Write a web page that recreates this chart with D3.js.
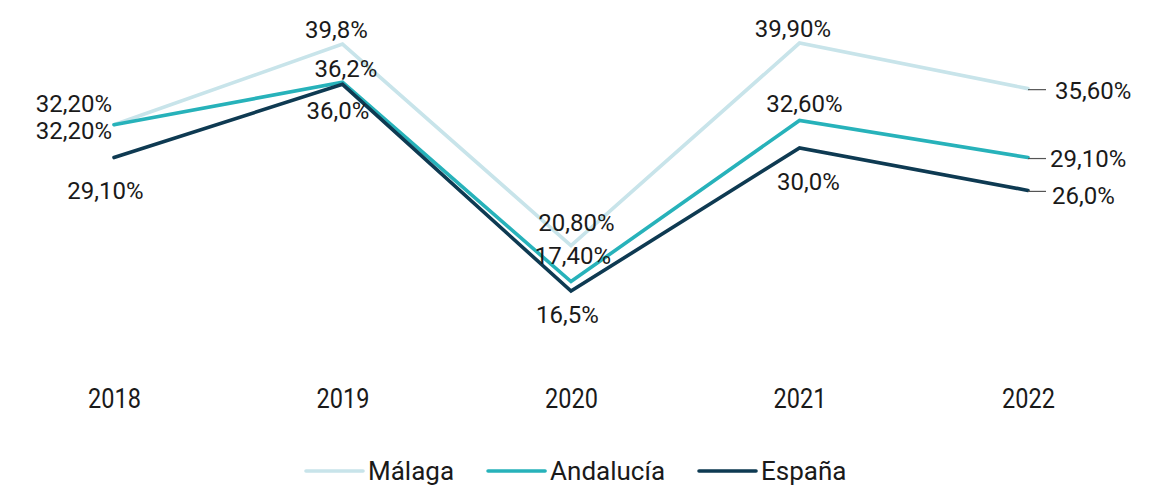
<!DOCTYPE html>
<html><head><meta charset="utf-8">
<script src="https://cdn.jsdelivr.net/npm/d3@7/dist/d3.min.js"></script>
<style>body{margin:0;background:#fff}svg{display:block}text{font-family:Roboto,"Liberation Sans",sans-serif;fill:#1a1a1a}</style>
</head><body><svg id="c" width="1164" height="486"></svg>
<script>
const years = ["2018","2019","2020","2021","2022"];
const malaga = [32.2, 39.8, 20.8, 39.9, 35.6];
const andalucia = [32.2, 36.2, 17.4, 32.6, 29.1];
const espana = [29.1, 36.0, 16.5, 30.0, 26.0];
const malagaLabels = ["32,20%","39,8%","20,80%","39,90%","35,60%"];
const andaluciaLabels = ["32,20%","36,2%","17,40%","32,60%","29,10%"];
const espanaLabels = ["29,10%","36,0%","16,5%","30,0%","26,0%"];
const seriesNames = ["Málaga","Andalucía","España"];
const colors = ["#c8e4ea","#27b2ba","#0e3a52"];

// label offsets (dx, dy of label centre relative to point); last point uses left anchor
const offsets = [
  [[-40,-21],[-6,-15],[5.5,-23.5],[-6.5,-14.6],[27,2]],
  [[-40,6],[3.5,-14],[2,-25.6],[5,-17],[22,0.5]],
  [[-8.5,32.5],[-4.5,26],[-3.5,23],[9,33],[24,4.6]]
];

const svg = d3.select("#c");
const x = d3.scalePoint().domain(years).range([114,1028]);
const y = d3.scaleLinear().domain([0,40]).range([466,42]);

const axis = d3.axisBottom(x).tickSize(0).tickPadding(0);
const ax = svg.append("g").attr("transform","translate(0,408)").call(axis);
ax.select(".domain").remove();
ax.selectAll(".tick text").attr("y",0).attr("dy",0).attr("font-size",28)
  .attr("transform","scale(0.84,1)")
  .style("font-family","Roboto,sans-serif").attr("fill","#1a1a1a");

const data = [malaga, andalucia, espana];
const labels = [malagaLabels, andaluciaLabels, espanaLabels];
const line = d3.line().x((d,i)=>x(years[i])).y(d=>y(d));

data.forEach((vals,s)=>{
  svg.append("path").datum(vals).attr("d",line).attr("fill","none")
    .attr("stroke",colors[s]).attr("stroke-width",3.6).attr("stroke-linejoin","miter").attr("stroke-linecap","round");
});

// leader lines at 2022
data.forEach((vals,s)=>{
  const i = 4;
  svg.append("line").attr("x1",x(years[i])).attr("x2",x(years[i])+18)
    .attr("y1",y(vals[i])+1).attr("y2",y(vals[i])+1).attr("stroke","#555").attr("stroke-width",1.2);
});

data.forEach((vals,s)=>{
  vals.forEach((v,i)=>{
    const o = offsets[s][i];
    svg.append("text").attr("x",x(years[i])+o[0]).attr("y",y(v)+o[1]+8.5)
      .attr("text-anchor", i===4 ? "start" : "middle")
      .attr("font-size",24).text(labels[s][i]);
  });
});

// legend (laid out from measured text widths)
let lx = 306;
seriesNames.forEach((n,s)=>{
  const g = svg.append("g").attr("transform",`translate(${lx},471)`);
  g.append("line").attr("x1",0).attr("x2",57).attr("stroke",colors[s]).attr("stroke-width",3.6).attr("stroke-linecap","round");
  const t = g.append("text").attr("x",62).attr("y",8.5).attr("font-size",26).text(n);
  lx += 62 + t.node().getComputedTextLength() + 34;
});
</script></body></html>
